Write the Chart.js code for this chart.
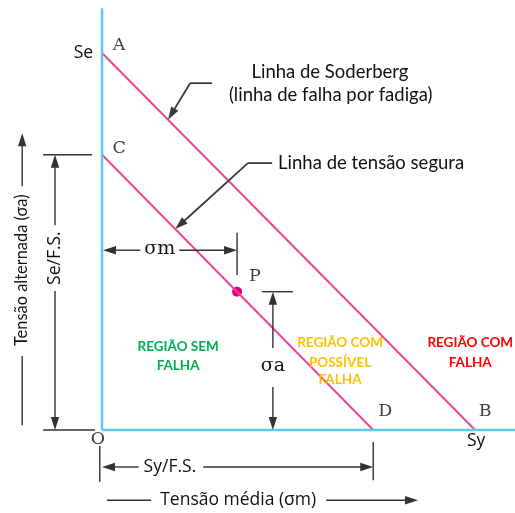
<!DOCTYPE html>
<html><head><meta charset="utf-8">
<script src="https://cdn.jsdelivr.net/npm/chart.js@4.4.0/dist/chart.umd.min.js"></script>
<style>html,body{margin:0;padding:0;background:#fff}#wrap{width:515px;height:513px}</style>
</head><body><div id="wrap"><canvas id="c" width="515" height="513"></canvas></div>
<script>
// ---- data (conceptual units: Sy = 100 on x, Se = 100 on y) ----
const soderbergX = [0, 100];      // A (Se on σa axis) -> B (Sy on σm axis)
const soderbergY = [100, 0];
const safeX = [0, 72.7];          // C (Se/F.S.) -> D (Sy/F.S.)
const safeY = [73, 0];
const pointPX = [36.2];           // working point P
const pointPY = [36.7];
const axisMax = [110.7, 111.9];   // extent of the σm and σa axes
const pointNames = ['A', 'B', 'C', 'D', 'O', 'P'];

const pts = (xs, ys) => xs.map((x, i) => ({x, y: ys[i]}));

const SERIF = '"DejaVu Serif", "Liberation Serif", serif';
const SANS = '"Open Sans", "Noto Sans", sans-serif';
const CAL = 'Lato, "Open Sans", sans-serif';
const INK = '#404040';

function arrowHead(ctx, x1, y1, x2, y2, color) {
  const a = Math.atan2(y2 - y1, x2 - x1), L = 13, W = 4.2;
  ctx.save(); ctx.fillStyle = color; ctx.beginPath();
  ctx.moveTo(x2, y2);
  ctx.lineTo(x2 - L * Math.cos(a) + W * Math.sin(a), y2 - L * Math.sin(a) - W * Math.cos(a));
  ctx.lineTo(x2 - L * Math.cos(a) - W * Math.sin(a), y2 - L * Math.sin(a) + W * Math.cos(a));
  ctx.closePath(); ctx.fill(); ctx.restore();
}
function seg(ctx, x1, y1, x2, y2, color, lw) {
  ctx.save(); ctx.strokeStyle = color; ctx.lineWidth = lw; ctx.beginPath();
  ctx.moveTo(x1, y1); ctx.lineTo(x2, y2); ctx.stroke(); ctx.restore();
}
function arrow(ctx, x1, y1, x2, y2, color, lw) {
  const a = Math.atan2(y2 - y1, x2 - x1);
  seg(ctx, x1, y1, x2 - 8 * Math.cos(a), y2 - 8 * Math.sin(a), color, lw);
  arrowHead(ctx, x1, y1, x2, y2, color);
}
function text(ctx, s, x, y, font, color, align) {
  ctx.save(); ctx.font = font; ctx.fillStyle = color; ctx.textAlign = align || 'center';
  ctx.textBaseline = 'middle'; ctx.fillText(s, x, y); ctx.restore();
}
function width(ctx, s, font) { ctx.save(); ctx.font = font; const w = ctx.measureText(s).width; ctx.restore(); return w; }

const annot = {
  id: 'annot',
  afterDatasetsDraw(chart) {
    const ctx = chart.ctx, xs = chart.scales.x, ys = chart.scales.y;
    const X = v => xs.getPixelForValue(v), Y = v => ys.getPixelForValue(v);
    const Px = X(pointPX[0]), Py = Y(pointPY[0]);
    const lineC = '#333';

    // point letters
    const sf = '17.5px ' + SERIF;
    text(ctx, pointNames[0], X(4.6), Y(102.1), sf, INK);
    text(ctx, pointNames[2], X(4.6), Y(74.7), sf, INK);
    text(ctx, pointNames[3], X(safeX[1] + 3.2), Y(5.0), sf, INK);
    text(ctx, pointNames[1], X(soderbergX[1] + 2.7), Y(5.0), sf, INK);
    text(ctx, pointNames[4], X(-1.1), Y(-2.4), sf, INK);
    text(ctx, pointNames[5], X(pointPX[0] + 4.8), Y(pointPY[0] + 4.0), sf, INK);

    // Se / Sy
    const lf = '17.5px ' + SANS;
    text(ctx, 'Se', X(-2.4), Y(soderbergY[0]), lf, '#111', 'right');
    text(ctx, 'Sy', X(soderbergX[1] + 0.3), Y(-3.0), lf, '#111');

    // σm dimension
    const gf = '19px ' + SERIF;
    const ym = Y(47.7);
    const wm = width(ctx, 'σm', gf);
    const cm = X(15.5);
    text(ctx, 'σm', cm, ym - 1, gf, '#111');
    arrow(ctx, cm - wm / 2 - 4, ym, X(0) + 1, ym, lineC, 1.4);
    arrow(ctx, cm + wm / 2 + 4, ym, Px, ym, lineC, 1.4);
    seg(ctx, Px, Y(52.3), Px, Y(41.1), lineC, 1.4);

    // σa dimension
    const xa = X(45.8);
    const ca = Y(16.7);
    text(ctx, 'σa', xa, ca - 1, gf, '#111');
    arrow(ctx, xa, ca - 19, xa, Py, lineC, 1.4);
    arrow(ctx, xa, ca + 20, xa, Y(0), lineC, 1.4);
    seg(ctx, X(42.9), Py, X(51.2), Py, lineC, 1.4);

    // Se/F.S. dimension (left)
    const df = '17.5px ' + SANS;
    const xs1 = X(-12.6);
    seg(ctx, X(-15.8), Y(safeY[0]), X(-2.7), Y(safeY[0]), lineC, 1.4);
    seg(ctx, X(-15.8), Y(0), X(-1.9), Y(0), lineC, 1.4);
    const wse = width(ctx, 'Se/F.S.', df);
    const cse = Y(45.6);
    arrow(ctx, xs1, cse - wse / 2 - 6, xs1, Y(safeY[0]), lineC, 1.4);
    arrow(ctx, xs1, cse + wse / 2 + 6, xs1, Y(0), lineC, 1.4);
    ctx.save(); ctx.translate(xs1, cse); ctx.rotate(-Math.PI / 2);
    text(ctx, 'Se/F.S.', 0, 0, df, '#111'); ctx.restore();

    // Tensão alternada (σa) (left axis title)
    const tLabel = 'Tensão alternada (σa)';
    const tSize = 16 * 152 / width(ctx, tLabel, '16px ' + CAL);
    const tf = tSize.toFixed(2) + 'px ' + CAL;
    const xt = X(-21.4), ct = Y(42.4);
    const wt = width(ctx, tLabel, tf);
    ctx.save(); ctx.translate(xt, ct); ctx.rotate(-Math.PI / 2);
    text(ctx, tLabel, 0, 0, tf, '#111'); ctx.restore();
    arrow(ctx, xt, ct - wt / 2 - 8, xt, Y(78.7), lineC, 1.4);
    seg(ctx, xt, ct + wt / 2 + 10, xt, Y(1.3), lineC, 1.4);

    // Sy/F.S. dimension (bottom)
    const yb = Y(-9.8);
    seg(ctx, X(-0.6), Y(-4.2), X(-0.6), Y(-13.8), lineC, 1.4);
    seg(ctx, X(safeX[1]), Y(-3.2), X(safeX[1]), Y(-13.3), lineC, 1.4);
    const wsy = width(ctx, 'Sy/F.S.', df);
    const csy = X(18.2);
    text(ctx, 'Sy/F.S.', csy, yb, df, '#111');
    arrow(ctx, csy - wsy / 2 - 5, yb, X(0), yb, lineC, 1.4);
    arrow(ctx, csy + wsy / 2 + 7, yb, X(safeX[1]), yb, lineC, 1.4);

    // Tensão média (σm) (bottom axis title)
    const bf = '17.5px ' + SANS;
    const yt = Y(-18.6), cx = X(36.5);
    const wx = width(ctx, 'Tensão média (σm)', bf);
    text(ctx, 'Tensão média (σm)', cx, yt, bf, '#111');
    seg(ctx, X(1.3), yt, cx - wx / 2 - 9, yt, lineC, 1.4);
    arrow(ctx, cx + wx / 2 + 10, yt, X(84.7), yt, lineC, 1.4);

    // leaders
    const gray = '#3a3a3a';
    seg(ctx, X(29.5), Y(92.0), X(23.6), Y(92.0), gray, 1.8);
    arrow(ctx, X(23.6), Y(92.0), X(17.7), Y(82.3), gray, 1.8);
    seg(ctx, X(45.6), Y(70.8), X(39.1), Y(70.8), gray, 1.8);
    arrow(ctx, X(39.1), Y(70.8), X(19.6), Y(53.3), gray, 1.8);

    // captions
    const cf = '18.5px ' + CAL;
    text(ctx, 'Linha de Soderberg', X(61.1), Y(95.0), cf, '#111');
    text(ctx, '(linha de falha por fadiga)', X(61.3), Y(88.9), cf, '#111');
    text(ctx, 'Linha de tensão segura', X(47.2), Y(70.8), cf, '#111', 'left');

    // regions
    const rf = 'bold 13.5px ' + CAL;
    text(ctx, 'REGIÃO SEM', X(20.4), Y(22.0), rf, '#00b050');
    text(ctx, 'FALHA', X(20.4), Y(17.2), rf, '#00b050');
    text(ctx, 'REGIÃO COM', X(63.8), Y(23.1), rf, '#ffc000');
    text(ctx, 'POSSÍVEL', X(63.8), Y(18.0), rf, '#ffc000');
    text(ctx, 'FALHA', X(63.8), Y(13.3), rf, '#ffc000');
    text(ctx, 'REGIÃO COM', X(98.7), Y(23.1), rf, '#ff0000');
    text(ctx, 'FALHA', X(98.7), Y(18.0), rf, '#ff0000');
  }
};

new Chart(document.getElementById('c'), {
  type: 'scatter',
  data: {
    datasets: [
      { data: [{x: 0, y: 0}, {x: 0, y: axisMax[1]}], showLine: true, borderColor: '#5cc8f0', borderWidth: 2.5, pointRadius: 0 },
      { data: [{x: 0, y: 0}, {x: axisMax[0], y: 0}], showLine: true, borderColor: '#5cc8f0', borderWidth: 2.5, pointRadius: 0 },
      { data: pts(soderbergX, soderbergY), showLine: true, borderColor: '#ee4690', borderWidth: 2, pointRadius: 0 },
      { data: pts(safeX, safeY), showLine: true, borderColor: '#ee4690', borderWidth: 2, pointRadius: 0 },
      { data: pts(pointPX, pointPY), pointRadius: 5, pointBackgroundColor: '#e6007e', pointBorderWidth: 0, borderColor: '#e6007e' }
    ]
  },
  options: {
    responsive: false, animation: false,
    layout: { padding: 0, autoPadding: false },
    plugins: { legend: { display: false }, tooltip: { enabled: false } },
    scales: {
      x: { type: 'linear', display: false, min: -27.35, max: 110.7 },
      y: { type: 'linear', display: false, min: -22.0, max: 114.06 }
    }
  },
  plugins: [annot]
});
</script></body></html>
